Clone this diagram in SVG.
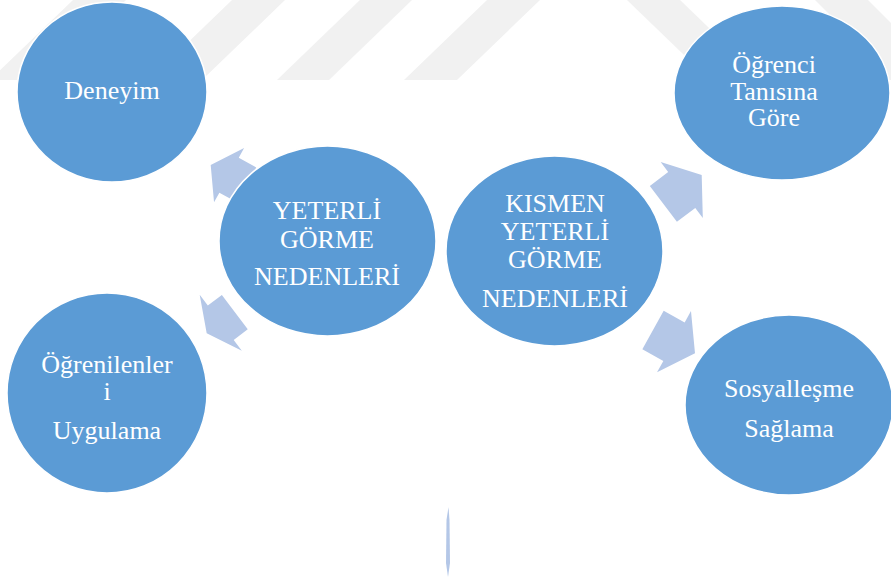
<svg xmlns="http://www.w3.org/2000/svg" width="891" height="579" viewBox="0 0 891 579">
<style>
.wm{fill:#f1f1f1}
.arrow{fill:#b4c7e7}
.node ellipse{fill:#5b9bd5;stroke:#ffffff;stroke-width:1.5}
.node text{font-family:"Liberation Serif","Times New Roman",serif;font-size:26px;fill:#ffffff;text-anchor:middle}
</style>
<rect x="0" y="0" width="891" height="579" fill="#ffffff"/>
<g id="watermark">
<polygon class="wm" points="73,0 126,0 43,80 -10,80"/>
<polygon class="wm" points="232,0 285,0 202,80 149,80"/>
<polygon class="wm" points="360,0 412,0 329,80 277,80"/>
<polygon class="wm" points="487,0 540,0 457,80 404,80"/>
<polygon class="wm" points="627,0 680,0 763,80 710,80"/>
<polygon class="wm" points="815,0 868,0 948,80 895,80"/>
<polygon class="wm" points="862,40 891,40 891,80 870,80"/>
</g>
<g id="connectors">
<polygon class="arrow" transform="translate(210.7,165) rotate(209)" points="0,0 -21,-31 -21,-20 -41,-20 -41,20 -21,20 -21,31"/>
<polygon class="arrow" transform="translate(206.7,333.3) rotate(143)" points="0,0 -17.6,-35 -17.6,-21.5 -35.2,-21.5 -35.2,21.5 -17.6,21.5 -17.6,35"/>
<polygon class="arrow" transform="translate(701.7,175) rotate(-37)" points="0,0 -25,-35 -25,-22.5 -48,-22.5 -48,22.5 -25,22.5 -25,35"/>
<polygon class="arrow" transform="translate(695,353.3) rotate(29)" points="0,0 -24,-35 -24,-22 -48,-22 -48,22 -24,22 -24,35"/>
<polygon class="arrow" points="448.5,507 449.5,520 450,563 448,577 446,563 446.5,520"/>
</g>
<g id="node-deneyim" class="node">
<ellipse cx="112" cy="92" rx="95" ry="90"/>
<text x="112" y="99">Deneyim</text>
</g>
<g id="node-ogrenci" class="node">
<ellipse cx="782" cy="93" rx="108" ry="87"/>
<text x="774" y="73">Öğrenci</text>
<text x="774" y="100">Tanısına</text>
<text x="774" y="126">Göre</text>
</g>
<g id="node-yeterli" class="node">
<ellipse cx="327.5" cy="241" rx="108.5" ry="95"/>
<text x="327" y="219">YETERLİ</text>
<text x="327" y="248">GÖRME</text>
<text x="327" y="285">NEDENLERİ</text>
</g>
<g id="node-kismen" class="node">
<ellipse cx="554.5" cy="251" rx="108.5" ry="95"/>
<text x="555" y="212">KISMEN</text>
<text x="555" y="240">YETERLİ</text>
<text x="555" y="268">GÖRME</text>
<text x="555" y="307">NEDENLERİ</text>
</g>
<g id="node-ogrenilenler" class="node">
<ellipse cx="107" cy="393" rx="100" ry="100"/>
<text x="107" y="373">Öğrenilenler</text>
<text x="107" y="400">i</text>
<text x="107" y="439">Uygulama</text>
</g>
<g id="node-sosyallesme" class="node">
<ellipse cx="789" cy="405" rx="104" ry="90"/>
<text x="789" y="397">Sosyalleşme</text>
<text x="789" y="437">Sağlama</text>
</g>
</svg>
